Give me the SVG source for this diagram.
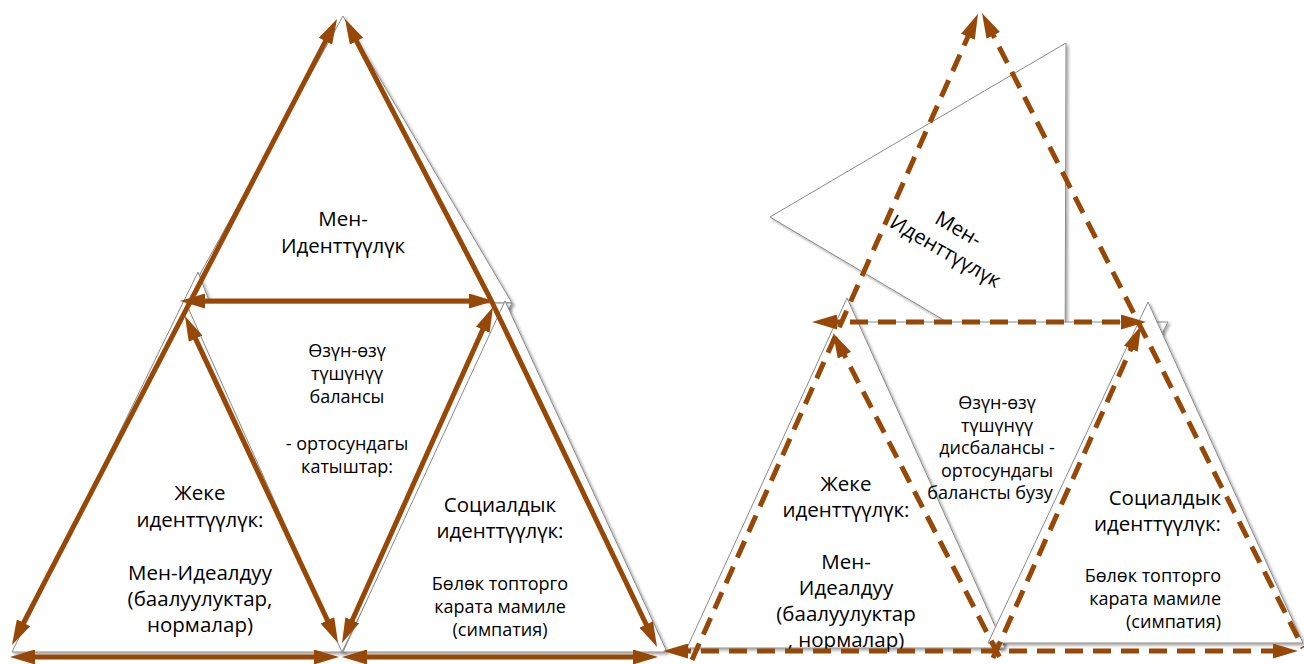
<svg xmlns="http://www.w3.org/2000/svg" width="1304" height="664" viewBox="0 0 1304 664">
<defs>
<style>
.tri{fill:#fff;stroke:#8a8a8a;stroke-width:1;filter:url(#sh)}
.t{font-family:"Open Sans","Noto Sans","DejaVu Sans",sans-serif;fill:#000;text-anchor:middle}
.L{font-size:20.5px}
.S{font-size:18px}
.r{text-anchor:end}
.a{fill:none;stroke:#974806;stroke-width:5}
.ab{marker-start:url(#ah);marker-end:url(#ah)}
.ae{marker-end:url(#ah)}
.as{marker-start:url(#ah)}
.d{stroke-dasharray:18 10}
</style>
<filter id="sh" x="-10%" y="-10%" width="130%" height="130%">
<feDropShadow dx="2" dy="2" stdDeviation="1.5" flood-color="#000" flood-opacity="0.35"/>
</filter>
<marker id="ah" viewBox="0 0 10 6" refX="6" refY="3" markerWidth="5" markerHeight="3" orient="auto-start-reverse">
<path d="M0,0 L10,3 L0,6 z" fill="#974806"/>
</marker>
</defs>
<rect width="1304" height="664" fill="#fff"/>

<!-- LEFT DIAGRAM -->
<g id="left-top">
<polygon class="tri" points="343,16 184,303 512,303"/>
<text class="t L"><tspan x="343" y="226">Мен-</tspan><tspan x="343" y="252.5">Иденттүүлүк</tspan></text>
</g>
<g id="left-personal">
<polygon class="tri" points="198,272 12,652 345,652"/>
<text class="t L"><tspan x="200" y="500">Жеке</tspan><tspan x="200" y="527">иденттүүлүк:</tspan><tspan x="200" y="580">Мен-Идеалдуу</tspan><tspan x="200" y="606">(баалуулуктар,</tspan><tspan x="200" y="632">нормалар)</tspan></text>
</g>
<g id="left-middle">
<polygon class="tri" points="186,303 512,303 342,652"/>
<text class="t S"><tspan x="347" y="357">Өзүн-өзү</tspan><tspan x="347" y="380">түшүнүү</tspan><tspan x="347" y="403">балансы</tspan><tspan x="347" y="450">- ортосундагы</tspan><tspan x="347" y="473">катыштар:</tspan></text>
</g>
<g id="left-social">
<polygon class="tri" points="505,301 343,652 667,652"/>
<text class="t L"><tspan x="500" y="512">Социалдык</tspan><tspan x="500" y="538">иденттүүлүк:</tspan></text>
<text class="t S"><tspan x="500" y="590">Бөлөк топторго</tspan><tspan x="500" y="613">карата мамиле</tspan><tspan x="500" y="636">(симпатия)</tspan></text>
</g>

<!-- RIGHT DIAGRAM -->
<g id="right-top">
<polygon class="tri" points="770,217 1066,43 1065,392"/>
<text class="t L" transform="translate(952,240) rotate(30)"><tspan x="0" y="-6">Мен-</tspan><tspan x="0" y="20">Иденттүүлүк</tspan></text>
</g>
<g id="right-middle">
<polygon class="tri" points="855,322 1168,322 1000,650"/>
</g>
<g id="right-personal">
<polygon class="tri" points="847,298 687,648 1005,648"/>
<text class="t L"><tspan x="846" y="491">Жеке</tspan><tspan x="846" y="517">иденттүүлүк:</tspan><tspan x="846" y="569">Мен-</tspan><tspan x="846" y="595">Идеалдуу</tspan><tspan x="846" y="621">(баалуулуктар</tspan><tspan x="846" y="647">, нормалар)</tspan></text>
</g>
<g id="right-social">
<polygon class="tri" points="1148,302 988,643 1303,643"/>
<text class="t L r"><tspan x="1221" y="505">Социалдык</tspan><tspan x="1221" y="531">иденттүүлүк:</tspan></text>
<text class="t S r"><tspan x="1221" y="582">Бөлөк топторго</tspan><tspan x="1221" y="605">карата мамиле</tspan><tspan x="1221" y="628">(симпатия)</tspan></text>
</g>
<g id="right-middle-label">
<text class="t S"><tspan x="997" y="409">Өзүн-өзү</tspan><tspan x="997" y="431.5">түшүнүү</tspan><tspan x="997" y="454">дисбалансы -</tspan><tspan x="997" y="476.5">ортосундагы</tspan><tspan x="990" y="499">балансты бузу</tspan></text>
</g>

<!-- CONNECTORS -->
<g id="connectors">
<line class="a ab" x1="16.6" y1="636.1" x2="332.4" y2="27.9"/>
<polyline class="a ab" points="349.6,27.9 490,298 652.7,638"/>
<line class="a ab" x1="190" y1="301" x2="484" y2="301"/>
<line class="a ab" x1="189.2" y1="325.1" x2="333.8" y2="633.9"/>
<line class="a ab" x1="346.1" y1="633.9" x2="488.9" y2="316.1"/>
<line class="a ab" x1="20" y1="657" x2="329" y2="657"/>
<line class="a ab" x1="352" y1="657" x2="648" y2="657"/>

<line class="a d ae" x1="692" y1="660" x2="974" y2="23"/>
<line class="a d as" x1="986.5" y1="21.9" x2="1303" y2="648"/>
<line class="a d ab" x1="822" y1="322" x2="1136" y2="322"/>
<line class="a d as" x1="837.6" y1="341.9" x2="1000" y2="658"/>
<line class="a d ae" x1="993" y1="658" x2="1137" y2="335"/>
<line class="a d ab" x1="673" y1="651" x2="1288" y2="651"/>
</g>
</svg>
